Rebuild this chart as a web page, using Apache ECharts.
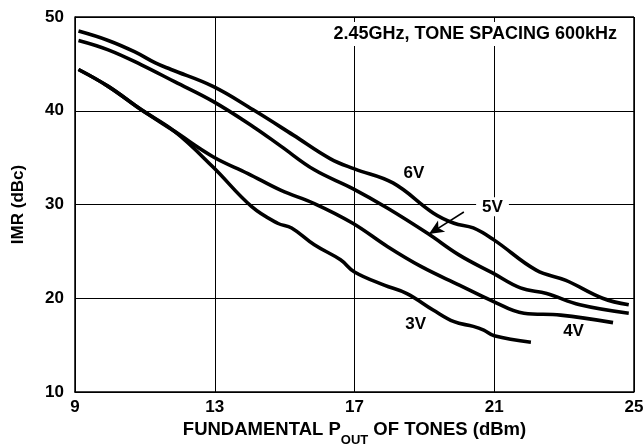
<!DOCTYPE html>
<html>
<head>
<meta charset="utf-8">
<script src="https://cdn.jsdelivr.net/npm/echarts@6/dist/echarts.min.js"></script>
<style>html,body{margin:0;padding:0;background:#fff}#c{width:644px;height:444px}</style>
</head>
<body>
<div id="c"></div>
<script>
var xTicks = [9, 13, 17, 21, 25];
var yTicks = [10, 20, 30, 40, 50];

var v6x = [9.1, 9.95, 10.7, 11.3, 11.75, 12.95, 14.1, 15.25, 16.3, 17.0, 18.1, 19.25, 19.85, 20.4, 21.0, 22.2, 23.05, 24.1, 24.85];
var v6y = [48.5, 47.5, 46.3, 45.1, 44.4, 42.6, 40.1, 37.4, 34.9, 33.8, 32.3, 29.1, 28.0, 27.5, 26.2, 23.0, 21.9, 20.0, 19.3];

var v5x = [9.1, 9.95, 10.9, 11.85, 12.95, 14.1, 14.9, 15.85, 16.95, 17.95, 19.1, 20.0, 20.95, 21.75, 22.5, 23.45, 24.85];
var v5y = [47.5, 46.5, 44.9, 43.1, 41.0, 38.3, 36.2, 33.7, 31.7, 29.6, 26.9, 24.6, 22.7, 21.1, 20.5, 19.3, 18.4];

var v4x = [9.1, 9.95, 10.9, 11.85, 12.95, 13.95, 14.9, 15.85, 16.95, 17.95, 18.9, 20.0, 20.95, 21.85, 22.9, 24.4];
var v4y = [44.4, 42.6, 40.1, 37.8, 35.1, 33.3, 31.5, 30.1, 28.0, 25.5, 23.4, 21.4, 19.7, 18.4, 18.2, 17.4];

var v3x = [9.1, 9.95, 10.9, 11.85, 12.95, 14.05, 14.8, 15.2, 15.85, 16.6, 17.0, 17.85, 18.5, 19.25, 19.85, 20.4, 20.7, 21.0, 22.05];
var v3y = [44.4, 42.6, 40.1, 37.8, 34.0, 29.8, 28.0, 27.5, 25.7, 24.1, 22.8, 21.4, 20.5, 18.75, 17.5, 17.0, 16.6, 16.0, 15.3];

var seriesNames = ['6V', '5V', '4V', '3V'];
var noteText = '2.45GHz, TONE SPACING 600kHz';

function pairs(xs, ys) { return xs.map(function (x, i) { return [x, ys[i]]; }); }

var FONT = '"Liberation Sans", Arial, sans-serif';
var lbl = { color: '#000', fontFamily: FONT, fontWeight: 'bold', fontSize: 17 };

function curve(name, xs, ys, extra) {
  var s = {
    name: name, type: 'line', data: pairs(xs, ys), smooth: 0.4, symbol: 'none',
    lineStyle: { color: '#000', width: 3.6 }, z: 3, silent: true
  };
  if (extra) for (var k in extra) s[k] = extra[k];
  return s;
}

function textMark(coord, text, bg) {
  return {
    coord: coord, symbol: 'circle', symbolSize: 0,
    label: {
      show: true, position: 'inside', formatter: text, color: '#000',
      fontFamily: FONT, fontWeight: 'bold', fontSize: 17,
      backgroundColor: bg ? '#fff' : 'transparent', padding: bg ? [1, 6] : 0
    }
  };
}

var chart = echarts.init(document.getElementById('c'), null, { renderer: 'canvas' });
chart.setOption({
  animation: false,
  backgroundColor: '#fff',
  title: {
    text: noteText, right: 22, top: 22,
    backgroundColor: '#fff', padding: [3, 5],
    textStyle: { color: '#000', fontFamily: FONT, fontWeight: 'bold', fontSize: 18 }
  },
  grid: { left: 75, right: 10, top: 17, bottom: 52, show: false, containLabel: false, outerBoundsMode: 'none' },
  xAxis: {
    type: 'value', min: 9, max: 25, interval: 4,
    name: '{a|FUNDAMENTAL P}{s|OUT}{a| OF TONES (dBm)}',
    nameLocation: 'middle', nameGap: 25,
    nameTextStyle: {
      rich: {
        a: { color: '#000', fontFamily: FONT, fontWeight: 'bold', fontSize: 18.5, lineHeight: 22, verticalAlign: 'bottom' },
        s: { color: '#000', fontFamily: FONT, fontWeight: 'bold', fontSize: 13, lineHeight: 22, verticalAlign: 'bottom', padding: [0, 0, -7, 0] }
      }
    },
    axisLine: { show: true, onZero: false, lineStyle: { color: '#000', width: 1.5 } },
    axisTick: { show: false },
    axisLabel: Object.assign({ margin: 7, formatter: function (v) { return xTicks.indexOf(v) >= 0 ? v : ''; } }, lbl),
    splitLine: { show: true, lineStyle: { color: '#000', width: 1 } }
  },
  yAxis: {
    type: 'value', min: 10, max: 50, interval: 10,
    name: 'IMR (dBc)', nameLocation: 'middle', nameGap: 48, nameRotate: 90,
    nameTextStyle: { color: '#000', fontFamily: FONT, fontWeight: 'bold', fontSize: 17 },
    axisLine: { show: true, onZero: false, lineStyle: { color: '#000', width: 1.5 } },
    axisTick: { show: false },
    axisLabel: Object.assign({ margin: 11, formatter: function (v) { return yTicks.indexOf(v) >= 0 ? v : ''; } }, lbl),
    splitLine: { show: true, lineStyle: { color: '#000', width: 1 } }
  },
  series: [
    curve(seriesNames[0], v6x, v6y, {
      markPoint: { silent: true, data: [textMark([18.7, 33.3], '6V', false)] }
    }),
    curve(seriesNames[1], v5x, v5y, {
      markPoint: { silent: true, data: [textMark([20.95, 29.75], '5V', true)] },
      markLine: {
        silent: true, symbol: ['none', 'arrow'], symbolSize: [10, 15],
        lineStyle: { color: '#000', width: 1.5, type: 'solid' },
        label: { show: false },
        data: [[{ coord: [20.13, 29.2] }, { coord: [19.13, 26.85] }]]
      }
    }),
    curve(seriesNames[2], v4x, v4y, {
      markPoint: { silent: true, data: [textMark([23.27, 16.5], '4V', false)] }
    }),
    curve(seriesNames[3], v3x, v3y, {
      markPoint: { silent: true, data: [textMark([18.75, 17.25], '3V', false)] }
    }),
    {
      type: 'line', data: [], silent: true,
      markLine: {
        silent: true, symbol: 'none', label: { show: false },
        lineStyle: { color: '#000', width: 1.5, type: 'solid' },
        data: [[{ coord: [25, 10] }, { coord: [25, 50] }], [{ coord: [9, 50] }, { coord: [25, 50] }]]
      }
    }
  ]
});
</script>
</body>
</html>
